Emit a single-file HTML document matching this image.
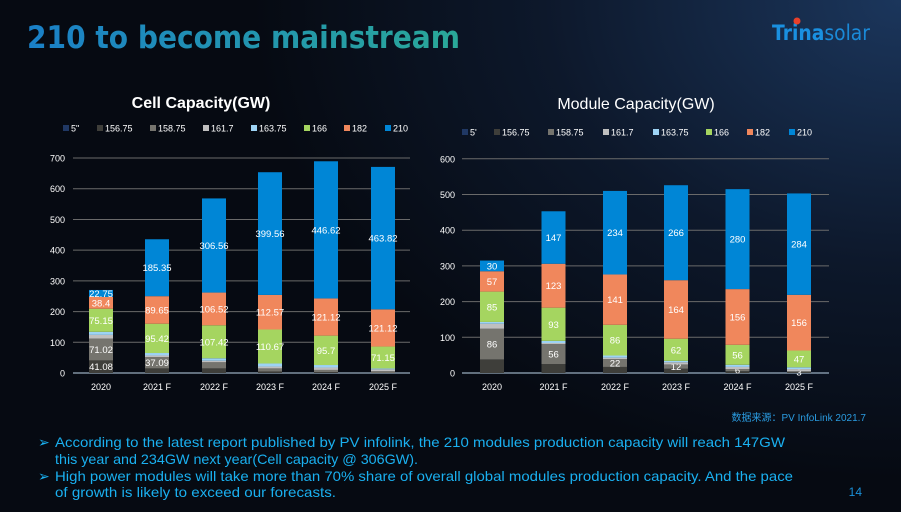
<!DOCTYPE html>
<html><head><meta charset="utf-8"><style>
html,body{margin:0;padding:0}
body{width:901px;height:512px;overflow:hidden;background:radial-gradient(ellipse 650px 480px at 901px 0px,#1b365c 0%,#0d182b 55%,#060a12 100%);font-family:"Liberation Sans","Noto Sans CJK SC",sans-serif;position:relative}
svg{position:absolute;left:0;top:0}
</style></head><body>
<svg id="s" width="901" height="512" xmlns="http://www.w3.org/2000/svg">
<defs><linearGradient id="tg" x1="0" x2="1"><stop offset="0" stop-color="#1a80c8"/><stop offset="1" stop-color="#2aa898"/></linearGradient></defs>
<text x="27" y="48" font-size="31" font-weight="bold" fill="url(#tg)" font-family="DejaVu Sans,sans-serif" textLength="433" lengthAdjust="spacingAndGlyphs">210 to become mainstream</text>
<text x="772" y="40" font-size="21" font-weight="bold" fill="#1a90e0" font-family="DejaVu Sans,sans-serif" textLength="98" lengthAdjust="spacingAndGlyphs">Trina<tspan font-weight="normal" fill="#1a8ad8">solar</tspan></text>
<circle cx="797" cy="21" r="3.5" fill="#e8402a"/>
<text x="201" y="108" font-size="16" font-weight="bold" fill="#fff" text-anchor="middle">Cell Capacity(GW)</text>
<text x="636" y="109" font-size="16" fill="#fff" text-anchor="middle">Module Capacity(GW)</text>
<g id="c"></g>
<text x="866" y="421" font-size="10" fill="#2a9be0" text-anchor="end">数据来源：PV InfoLink 2021.7</text>
<g font-size="14" fill="#1ab0f0">
<text x="38" y="447">➢</text><text x="55" y="447" textLength="730" lengthAdjust="spacingAndGlyphs">According to the latest report published by PV infolink, the 210 modules production capacity will reach 147GW</text>
<text x="55" y="464" textLength="363" lengthAdjust="spacingAndGlyphs">this year and 234GW next year(Cell capacity @ 306GW).</text>
<text x="38" y="481">➢</text><text x="55" y="481" textLength="738" lengthAdjust="spacingAndGlyphs">High power modules will take more than 70% share of overall global modules production capacity. And the pace</text>
<text x="55" y="497" textLength="281" lengthAdjust="spacingAndGlyphs">of growth is likely to exceed our forecasts.</text>
</g>
<text x="862" y="496" font-size="12" fill="#1a90d8" text-anchor="end">14</text>
</svg>
<script>
var C=["#203864","#3e3e3a","#75746e","#bfbfbf","#9dd3f5","#a5d560","#f0875c","#0086d6"];
var g=document.getElementById('c'),h='';
function T(x,y,t,o){h+='<text x="'+x+'" y="'+y+'" '+(o||'')+'>'+t+'</text>';}
function chart(o){
 for(var v=0;v<=o.max;v+=100){var y=o.y0-v*o.k;
  if(v>0)h+='<line x1="'+o.x1+'" x2="'+o.x2+'" y1="'+y+'" y2="'+y+'" stroke="#6a6a6a" stroke-width="1"/>';
  T(o.lx,y+3.5,v,'font-size="9" fill="#fff" text-anchor="end"');}
 h+='<line x1="'+o.x1+'" x2="'+o.x2+'" y1="'+o.y0+'" y2="'+o.y0+'" stroke="#bcd4e8" stroke-width="1"/>';
 var yrs=["2020","2021 F","2022 F","2023 F","2024 F","2025 F"];
 o.d.forEach(function(b,i){var cx=o.cx[i],y=o.y0;
  b.forEach(function(s,j){if(!s)return;var v=s[0],hh=v*o.k;y-=hh;
   h+='<rect x="'+(cx-o.w/2)+'" y="'+y+'" width="'+o.w+'" height="'+hh+'" fill="'+C[j]+'"/>';
   if(s[1])T(cx,y+hh/2+3.5,s[1],'font-size="9.5" fill="#fff" text-anchor="middle"');});
  T(cx,o.y0+17,yrs[i],'font-size="9" fill="#fff" text-anchor="middle"');});
 var L=["5"+o.q,"156.75","158.75","161.7","163.75","166","182","210"];
 L.forEach(function(t,j){h+='<rect x="'+(o.lg[j]-3)+'" y="'+(o.ly-3)+'" width="6" height="6" fill="'+C[j]+'"/>';T(o.lg[j]+5,o.ly+3.5,t,'font-size="9" fill="#fff"');});
}
chart({y0:373,k:0.3071,max:700,x1:73,x2:410,lx:65,w:24,cx:[101,157,214,270,326,383],q:'"',ly:128,lg:[66,100,153,206,254,307,347,388],
 d:[[0,[41.08,'41.08'],[71.02,'71.02'],[12],[10],[75.15,'75.15'],[38.4,'38.4'],[22.75,'22.75']],
 [0,[15],[37.09,'37.09'],[5],[8],[95.42,'95.42'],[89.65,'89.65'],[185.35,'185.35']],
 [0,[15],[20],[5],[8],[107.42,'107.42'],[106.52,'106.52'],[306.56,'306.56']],
 [0,[5],[10],[6],[10],[110.67,'110.67'],[112.57,'112.57'],[399.56,'399.56']],
 [0,[3],[7],[8],[8],[95.7,'95.7'],[121.12,'121.12'],[446.62,'446.62']],
 [0,0,[6],[6],[3],[71.15,'71.15'],[121.12,'121.12'],[463.82,'463.82']]]});
chart({y0:373,k:0.357,max:600,x1:462,x2:829,lx:455,w:24,cx:[492,553.5,615,676,737.5,799],q:"'",ly:132,lg:[465,497,551,606,656,709,750,792],
 d:[[0,[38],[86,'86'],[14],[5],[85,'85'],[57,'57'],[30,'30']],
 [0,[25],[56,'56'],[3],[6],[93,'93'],[123,'123'],[147,'147']],
 [0,[17],[22,'22'],[4],[6],[86,'86'],[141,'141'],[234,'234']],
 [0,[12],[12,'12'],[6],[4],[62,'62'],[164,'164'],[266,'266']],
 [0,[5],[6,'6'],[6],[6],[56,'56'],[156,'156'],[280,'280']],
 [0,[2],[3,'3'],[6],[5],[47,'47'],[156,'156'],[284,'284']]]});
g.innerHTML=h;
</script>
</body></html>
